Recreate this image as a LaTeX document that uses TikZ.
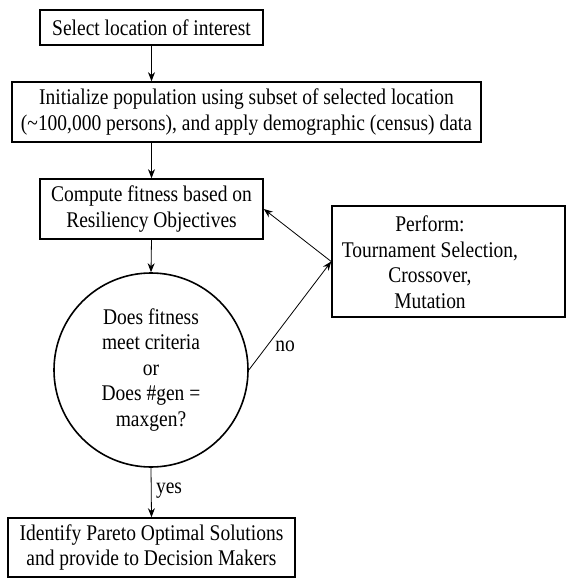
\documentclass[tikz,border=0pt]{standalone}
\usepackage{fontspec}
\setmainfont[FakeStretch=0.87]{Liberation Serif}
\usetikzlibrary{arrows.meta}
\begin{document}
\begin{tikzpicture}[x=1pt,y=-1pt,
  txt/.style={font=\fontsize{22.4}{25.5}\selectfont},
  box/.style={draw, line width=1.6pt, align=center, inner sep=0pt, txt},
  arr/.style={-{Stealth[length=9pt,width=7pt]}, line width=0.8pt},
  lab/.style={txt, inner sep=0pt}]
\useasboundingbox (0,0) rectangle (566,578);
\node[box, minimum width=223pt, minimum height=35pt] (sel) at (151.5,27.5) {Select location of interest};
\node[box, minimum width=469pt, minimum height=60pt] (init) at (246.5,112) {Initialize population using subset of selected location\\(\textasciitilde100,000 persons), and apply demographic (census) data};
\node[box, minimum width=223pt, minimum height=60pt] (fit) at (151.5,209) {Compute fitness based on\\Resiliency Objectives};
\node[box, minimum width=233pt, minimum height=111pt] (perf) at (448.5,261.5) {};
\node[lab, align=center] (perftxt) at (430,262) {Perform:\\Tournament Selection,\\Crossover,\\Mutation};
\node[box, circle, minimum size=194pt] (dec) at (151,370) {Does fitness\\meet criteria\\or\\Does \#gen =\\maxgen?};
\node[box, minimum width=287pt, minimum height=59pt] (fin) at (151.5,547.5) {Identify Pareto Optimal Solutions\\and provide to Decision Makers};
\draw[arr] (sel.south) -- (sel.south |- init.north);
\draw[arr] (fit.north |- init.south) -- (fit.north);
\draw[arr] (fit.south) -- (dec.north);
\draw[arr] (dec.south) -- (fin.north);
\draw[arr] (dec.east) -- (perf.west);
\draw[arr] (perf.west) -- (fit.east);
\node[lab] (no) at (285,346) {no};
\node[lab] (yes) at (169,491) {yes};
\end{tikzpicture}
\end{document}
